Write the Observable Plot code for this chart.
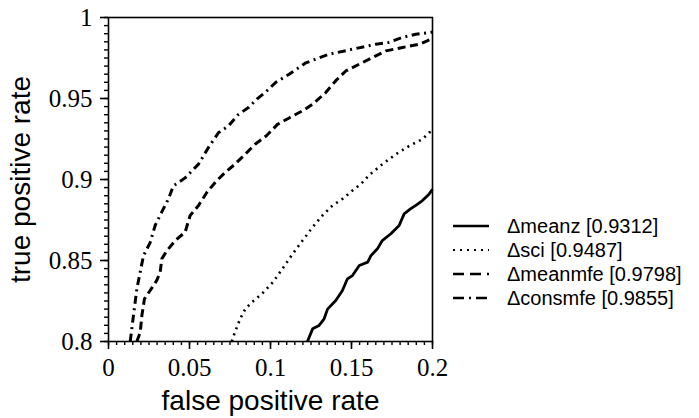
<!DOCTYPE html>
<html>
<head>
<meta charset="utf-8">
<script src="https://cdn.jsdelivr.net/npm/d3@7"></script>
<script src="https://cdn.jsdelivr.net/npm/@observablehq/plot@0.6"></script>
<style>
  html, body { margin: 0; padding: 0; background: white; }
  #wrap { position: relative; width: 699px; height: 418px; }
  #legend { position: absolute; left: 453px; top: 214px; font-family: "Liberation Sans", Arial, sans-serif; font-size: 20px; color: black; }
  .row { display: flex; align-items: center; height: 24px; }
  .row svg { margin-right: 18px; }
</style>
</head>
<body>
<div id="wrap"><div id="legend"></div></div>
<script>
// ---- data ----
const seriesNames = ["\u0394meanz", "\u0394sci", "\u0394meanmfe", "\u0394consmfe"];
const aucValues = ["0.9312", "0.9487", "0.9798", "0.9855"];

const meanzX = [0.1228,0.126,0.130,0.1331,0.1352,0.1403,0.1444,0.1475,0.1506,0.1548,0.16,0.162,0.166,0.169,0.1743,0.1794,0.1825,0.1866,0.1897,0.1938,0.198,0.2];
const meanzY = [0.8,0.8078,0.8099,0.814,0.820,0.8253,0.8315,0.8387,0.8407,0.8469,0.849,0.853,0.8572,0.8623,0.8665,0.8716,0.8788,0.882,0.884,0.887,0.8911,0.894];

const sciX = [0.0761,0.078,0.0813,0.0844,0.0885,0.0947,0.1015,0.1074,0.1136,0.1198,0.126,0.1321,0.1383,0.1444,0.1506,0.1558,0.161,0.169,0.1774,0.1856,0.1938,0.198,0.2];
const sciY = [0.8,0.8057,0.814,0.820,0.8243,0.8294,0.8366,0.8449,0.854,0.8623,0.8706,0.8778,0.884,0.888,0.8932,0.8972,0.9028,0.9094,0.9156,0.9207,0.9249,0.929,0.930];

const meanmfeX = [0.0175,0.0196,0.0206,0.0222,0.0257,0.0298,0.0319,0.0329,0.036,0.0412,0.0473,0.0504,0.0556,0.0607,0.0665,0.072,0.078,0.0844,0.0905,0.0975,0.1043,0.1115,0.1198,0.126,0.1341,0.1403,0.1465,0.1548,0.163,0.1712,0.1815,0.1918,0.199,0.2];
const meanmfeY = [0.8,0.8057,0.816,0.8263,0.8315,0.8377,0.8428,0.851,0.856,0.8623,0.8675,0.8778,0.884,0.892,0.899,0.9043,0.9094,0.9156,0.9218,0.927,0.934,0.938,0.9424,0.9465,0.9537,0.961,0.967,0.9712,0.9753,0.9794,0.9815,0.9835,0.9866,0.987];

const consmfeX = [0.0134,0.0154,0.0175,0.0196,0.0216,0.0257,0.0288,0.0329,0.037,0.040,0.0473,0.0556,0.0617,0.068,0.074,0.080,0.0864,0.0916,0.0967,0.1033,0.1115,0.1218,0.136,0.1506,0.165,0.173,0.1815,0.1897,0.198,0.2];
const consmfeY = [0.8,0.816,0.8325,0.843,0.853,0.861,0.8716,0.880,0.888,0.896,0.901,0.9095,0.9198,0.929,0.933,0.940,0.9444,0.9496,0.9537,0.960,0.965,0.972,0.9773,0.9804,0.9835,0.9846,0.9877,0.9897,0.9907,0.991];

const xTicks = [0, 0.05, 0.1, 0.15, 0.2];
const yTicks = [0.8, 0.85, 0.9, 0.95, 1];
const xLabel = "false positive rate";
const yLabel = "true positive rate";

// ---- build ----
const pts = (xs, ys) => xs.map((x, i) => ({x, y: ys[i]}));
const dashes = [null, "2,4.5", "8,4.5", "8,4.5,2,4.5"];
const widths = [2.8, 2.6, 3, 3];
const legendDashes = [null, "2,5", "11,6", "11,5,2,5"];
const seriesData = [pts(meanzX, meanzY), pts(sciX, sciY), pts(meanmfeX, meanmfeY), pts(consmfeX, consmfeY)];

const minorX = d3.range(0, 41).map(i => +(i * 0.005).toFixed(3));
const minorY = d3.range(0, 41).map(i => +(0.8 + i * 0.005).toFixed(3));
const fmt = d => String(+(+d).toFixed(3));
const serif = "'Liberation Serif', 'Times New Roman', serif";
const sans = "'Liberation Sans', Arial, sans-serif";

const lineMarks = seriesData.map((d, i) => Plot.line(d, {
  x: "x", y: "y", stroke: "black", strokeWidth: widths[i],
  strokeDasharray: dashes[i] || undefined, strokeLinecap: "butt", strokeLinejoin: "round"
}));

const chart = Plot.plot({
  width: 699, height: 418,
  marginLeft: 108, marginRight: 267, marginTop: 17, marginBottom: 77,
  style: {background: "white", color: "black", overflow: "visible"},
  x: {domain: [0, 0.2]},
  y: {domain: [0.8, 1]},
  marks: [
    ...lineMarks,
    Plot.frame({stroke: "black", strokeWidth: 1.6}),
    Plot.axisX({ticks: minorX, tickSize: 4, tickFormat: () => "", label: null, strokeWidth: 1.4}),
    Plot.axisY({ticks: minorY, tickSize: 4, tickFormat: () => "", label: null, strokeWidth: 1.4}),
    Plot.axisX({ticks: xTicks, tickSize: 8, tickPadding: 9, tickFormat: fmt, label: null,
      fontFamily: serif, fontSize: 25, strokeWidth: 1.6}),
    Plot.axisY({ticks: yTicks, tickSize: 8, tickPadding: 8, tickFormat: fmt, label: null,
      fontFamily: serif, fontSize: 25, strokeWidth: 1.6}),
    Plot.text([xLabel], {text: d => d, frameAnchor: "bottom", dy: 60, lineAnchor: "middle", textAnchor: "middle",
      fontFamily: sans, fontSize: 28, fill: "black"}),
    Plot.text([yLabel], {text: d => d, frameAnchor: "left", dx: -87, rotate: -90, lineAnchor: "middle", textAnchor: "middle",
      fontFamily: sans, fontSize: 28, fill: "black"})
  ]
});
const wrap = document.getElementById("wrap");
wrap.insertBefore(chart, wrap.firstChild);

// legend
const legend = d3.select("#legend");
seriesNames.forEach((name, i) => {
  const row = legend.append("div").attr("class", "row");
  const s = row.append("svg").attr("width", 36).attr("height", 10);
  s.append("line").attr("x1", 0).attr("x2", 36).attr("y1", 5).attr("y2", 5)
    .attr("stroke", "black").attr("stroke-width", i === 1 ? 2 : 2.6)
    .attr("stroke-dasharray", legendDashes[i]);
  row.append("span").text(`${name} [${aucValues[i]}]`);
});
</script>
</body>
</html>
